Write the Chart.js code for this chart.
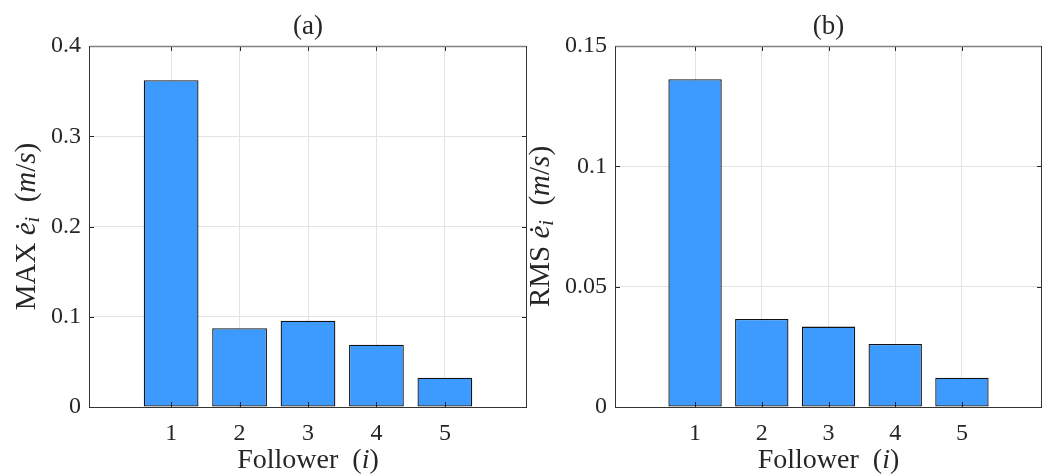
<!DOCTYPE html>
<html>
<head>
<meta charset="utf-8">
<script src="https://cdn.jsdelivr.net/npm/chart.js@4/dist/chart.umd.min.js"></script>
<style>
  body { margin: 0; background: #fff; }
  #wrap { position: relative; width: 1048px; height: 475px; }
  #chartA { position: absolute; left: 0; top: 0; }
  #chartB { position: absolute; left: 515px; top: 0; }
</style>
</head>
<body>
<div id="wrap">
  <canvas id="chartA" width="540" height="475"></canvas>
  <canvas id="chartB" width="533" height="475"></canvas>
</div>
<script>
// data
const followers = [1, 2, 3, 4, 5];
const maxValues = [0.362, 0.0872, 0.0956, 0.069, 0.0325];
const rmsValues = [0.1362, 0.0366, 0.0334, 0.0262, 0.0122];
const xTicks = [1, 2, 3, 4, 5];
const yTicksA = [0, 0.1, 0.2, 0.3, 0.4];
const yTicksB = [0, 0.05, 0.1, 0.15];

const FONT = '"Liberation Serif", "DejaVu Serif", serif';
const TEXT = '#262626';

function drawRich(ctx, parts, size) {
    // measure first, then draw centred on the origin
    const pieces = parts.map(p => {
        const s = p.sub ? size * 0.7 : size;
        const font = (p.it ? 'italic ' : '') + s + 'px ' + FONT;
        ctx.font = font;
        return { t: p.t, font: font, w: ctx.measureText(p.t).width, dy: p.sub ? size * 0.22 : 0 };
    });
    const total = pieces.reduce((a, p) => a + p.w, 0);
    let x = -total / 2;
    ctx.textAlign = 'left';
    ctx.textBaseline = 'middle';
    ctx.fillStyle = TEXT;
    pieces.forEach(p => {
        ctx.font = p.font;
        ctx.fillText(p.t, x, p.dy);
        x += p.w;
    });
}

const matlabAxes = {
    id: 'matlabAxes',
    afterDatasetsDraw(chart, args, opts) {
        const { ctx, chartArea: a, scales } = chart;
        ctx.save();
        // inward tick marks
        ctx.strokeStyle = TEXT;
        ctx.lineWidth = 1;
        ctx.beginPath();
        scales.x.ticks.forEach(t => {
            const px = Math.round(scales.x.getPixelForValue(t.value)) + 0.5;
            ctx.moveTo(px, a.bottom); ctx.lineTo(px, a.bottom - 5);
            ctx.moveTo(px, a.top); ctx.lineTo(px, a.top + 5);
        });
        scales.y.ticks.forEach(t => {
            const py = Math.round(scales.y.getPixelForValue(t.value)) + 0.5;
            ctx.moveTo(a.left, py); ctx.lineTo(a.left + 5, py);
            ctx.moveTo(a.right, py); ctx.lineTo(a.right - 5, py);
        });
        ctx.stroke();
        // box
        const l = Math.round(a.left) + 0.5, r = Math.round(a.right) - 0.5;
        const t = Math.round(a.top) + 0.5, b = Math.round(a.bottom) + 0.5;
        ctx.strokeStyle = '#808080';
        ctx.lineWidth = 1.5;
        ctx.beginPath(); ctx.moveTo(l, t); ctx.lineTo(r, t); ctx.stroke();
        ctx.strokeStyle = '#333';
        ctx.lineWidth = 1;
        ctx.beginPath();
        ctx.moveTo(l, t); ctx.lineTo(l, b); ctx.lineTo(r, b); ctx.lineTo(r, t);
        ctx.stroke();
        // title
        const cx = (a.left + a.right) / 2;
        ctx.fillStyle = TEXT;
        ctx.font = '27px ' + FONT;
        ctx.textAlign = 'center';
        ctx.textBaseline = 'middle';
        ctx.fillText(opts.title, cx, 27);
        // x label
        ctx.save();
        ctx.translate(cx, 461);
        drawRich(ctx, [{ t: 'Follower  (' }, { t: 'i', it: true }, { t: ')' }], 28);
        ctx.restore();
        // y label
        ctx.save();
        ctx.translate(opts.yLabelX, (a.top + a.bottom) / 2);
        ctx.rotate(-Math.PI / 2);
        drawRich(ctx, [
            { t: opts.stat + ' ' }, { t: 'ė', it: true }, { t: 'i', it: true, sub: true },
            { t: '  (' }, { t: 'm', it: true }, { t: '/' }, { t: 's', it: true }, { t: ')' }
        ], 29);
        ctx.restore();
        ctx.restore();
    }
};

function makeChart(id, values, yTicks, yMax, yWidth, padRight, opts) {
    const ctx = document.getElementById(id).getContext('2d');
    return new Chart(ctx, {
        type: 'bar',
        data: {
            datasets: [{
                data: followers.map((f, i) => ({ x: f, y: values[i] })),
                backgroundColor: '#3d9aff',
                borderColor: '#111',
                borderWidth: 1.3,
                borderSkipped: false,
                barPercentage: 0.8,
                categoryPercentage: 1
            }]
        },
        options: {
            responsive: false,
            animation: false,
            layout: { padding: { top: 46, right: padRight, bottom: 0, left: 0 } },
            plugins: {
                legend: { display: false },
                tooltip: { enabled: false },
                matlabAxes: opts
            },
            scales: {
                x: {
                    type: 'linear',
                    offset: false,
                    min: -0.2,
                    max: 6.2,
                    afterBuildTicks: s => { s.ticks = xTicks.map(v => ({ value: v })); },
                    afterFit: s => { s.height = 68; },
                    grid: { color: '#e3e3e3', drawTicks: false, offset: false },
                    border: { display: false },
                    ticks: {
                        padding: 12,
                        color: TEXT,
                        font: { family: FONT, size: 24 },
                        callback: v => String(v)
                    }
                },
                y: {
                    min: 0,
                    max: yMax,
                    afterBuildTicks: s => { s.ticks = yTicks.map(v => ({ value: v })); },
                    afterFit: s => { s.width = yWidth; },
                    grid: { color: '#e3e3e3', drawTicks: false },
                    border: { display: false },
                    ticks: {
                        padding: 8,
                        color: TEXT,
                        font: { family: FONT, size: 24 },
                        callback: v => String(v)
                    }
                }
            }
        },
        plugins: [matlabAxes]
    });
}

makeChart('chartA', maxValues, yTicksA, 0.4, 89, 13,
    { title: '(a)', stat: 'MAX', yLabelX: 27 });
makeChart('chartB', rmsValues, yTicksB, 0.15, 100, 6,
    { title: '(b)', stat: 'RMS', yLabelX: 26 });
</script>
</body>
</html>
